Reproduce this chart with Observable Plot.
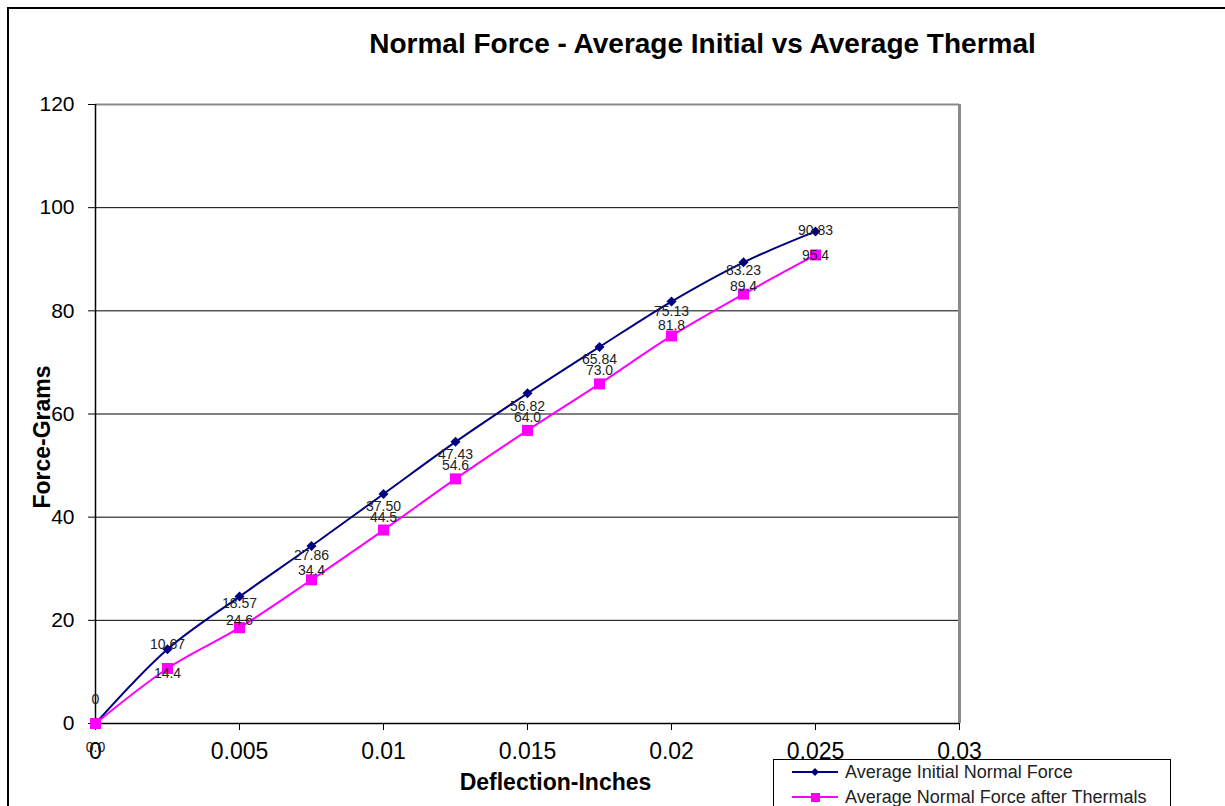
<!DOCTYPE html>
<html><head><meta charset="utf-8">
<script src="https://cdn.jsdelivr.net/npm/d3@7"></script>
<script src="https://cdn.jsdelivr.net/npm/@observablehq/plot@0.6"></script>
<style>
body{margin:0;background:#fff;overflow:hidden;font-family:Arial,"Liberation Sans",sans-serif}
#wrap{position:relative;width:1225px;height:806px;overflow:hidden;background:#fff}
#border{position:absolute;left:7px;top:7px;width:1400px;height:1000px;border-left:2px solid #000;border-top:2px solid #000}
#chart{position:absolute;left:0;top:0}
#legend{position:absolute;left:773px;top:759px;width:396px;height:70px;border:1px solid #000;background:#fff;font-size:18px;color:#222}
#legend .row{position:absolute;left:18px;height:24px;display:flex;align-items:center}
#legend svg{margin-right:6px}
</style></head><body>
<div id="wrap"><div id="border"></div><div id="chart"></div><div id="legend"></div></div>
<script>
const deflection = [0, 0.0025, 0.005, 0.0075, 0.01, 0.0125, 0.015, 0.0175, 0.02, 0.0225, 0.025];
const initialForce = [0, 14.4, 24.6, 34.4, 44.5, 54.6, 64.0, 73.0, 81.8, 89.4, 95.4];
const thermalForce = [0, 10.67, 18.57, 27.86, 37.50, 47.43, 56.82, 65.84, 75.13, 83.23, 90.83];
const xTicks = [0, 0.005, 0.01, 0.015, 0.02, 0.025, 0.03];
const yTicks = [0, 20, 40, 60, 80, 100, 120];
const seriesNames = ["Average Initial Normal Force", "Average Normal Force after Thermals"];
const seriesColors = ["#000080", "#ff00ff"];
const titleText = "Normal Force - Average Initial vs Average Thermal";
const xLabel = "Deflection-Inches";
const yLabel = "Force-Grams";

const pts = deflection.map((x, i) => ({x, initial: initialForce[i], thermal: thermalForce[i]}));
const fmt2 = v => v === 0 ? "0" : v.toFixed(2);
const fmt1 = v => v.toFixed(1);
const font = "Arial, 'Liberation Sans', sans-serif";

const chart = Plot.plot({
  width: 1225, height: 806,
  marginLeft: 95, marginRight: 266, marginTop: 104, marginBottom: 83,
  style: {background: "transparent", fontFamily: font, color: "#000", overflow: "visible"},
  x: {domain: [0, 0.03]},
  y: {domain: [0, 120]},
  marks: [
    Plot.ruleY(yTicks.filter(v => v > 0 && v < 120), {stroke: "#000", strokeWidth: 1}),
    Plot.ruleY([120], {stroke: "#8a8a8a", strokeWidth: 2}),
    Plot.ruleX([0.03], {stroke: "#8a8a8a", strokeWidth: 3}),
    Plot.axisX({ticks: xTicks, tickFormat: d => String(+d.toFixed(4)), tickSize: 7, tickPadding: 12, fontSize: 23, label: null, stroke: "#000", fill: "#000"}),
    Plot.axisY({ticks: yTicks, tickFormat: d => String(d), tickSize: 7, tickPadding: 14, fontSize: 21, label: null, stroke: "#000", fill: "#000"}),
    Plot.ruleX([0], {stroke: "#000", strokeWidth: 1.5}),
    Plot.ruleY([0], {stroke: "#000", strokeWidth: 1.5}),
    Plot.line(pts, {x: "x", y: "initial", stroke: seriesColors[0], strokeWidth: 2, curve: "catmull-rom"}),
    Plot.line(pts, {x: "x", y: "thermal", stroke: seriesColors[1], strokeWidth: 2, curve: "catmull-rom"}),
    Plot.dot(pts, {x: "x", y: "initial", symbol: "diamond2", r: 4.5, fill: seriesColors[0], stroke: "none"}),
    Plot.dot(pts, {x: "x", y: "thermal", symbol: "square", r: 6.2, fill: seriesColors[1], stroke: "none"}),
    Plot.text(pts, {x: "x", y: "thermal", text: d => fmt2(d.thermal), dy: -24, fontSize: 14, fill: "#222"}),
    Plot.text(pts, {x: "x", y: "initial", text: d => fmt1(d.initial), dy: 24, fontSize: 14, fill: "#222"}),
    Plot.text([titleText], {text: d => d, frameAnchor: "top", textAnchor: "middle", lineAnchor: "middle", dx: 175, dy: -60, fontSize: 28, fontWeight: "bold", fill: "#000"}),
    Plot.text([xLabel], {text: d => d, frameAnchor: "bottom", textAnchor: "middle", lineAnchor: "middle", dx: 28, dy: 59, fontSize: 23, fontWeight: "bold", fill: "#000"}),
    Plot.text([yLabel], {text: d => d, frameAnchor: "left", textAnchor: "middle", lineAnchor: "middle", rotate: -90, dx: -53, dy: 23, fontSize: 23, fontWeight: "bold", fill: "#000"})
  ]
});
document.getElementById("chart").appendChild(chart);

const legend = document.getElementById("legend");
const symbols = [
  '<polygon points="23,3 27,7 23,11 19,7" fill="' + seriesColors[0] + '"/>',
  '<rect x="19" y="3" width="9" height="9" fill="' + seriesColors[1] + '"/>'
];
seriesNames.forEach((name, i) => {
  const row = document.createElement("div");
  row.className = "row";
  row.style.top = (i === 0 ? 0 : 25) + "px";
  row.innerHTML = '<svg width="47" height="14"><line x1="0" y1="7" x2="46" y2="7" stroke="' + seriesColors[i] + '" stroke-width="2"/>' + symbols[i] + '</svg><span>' + name + '</span>';
  legend.appendChild(row);
});
</script>
</body></html>
